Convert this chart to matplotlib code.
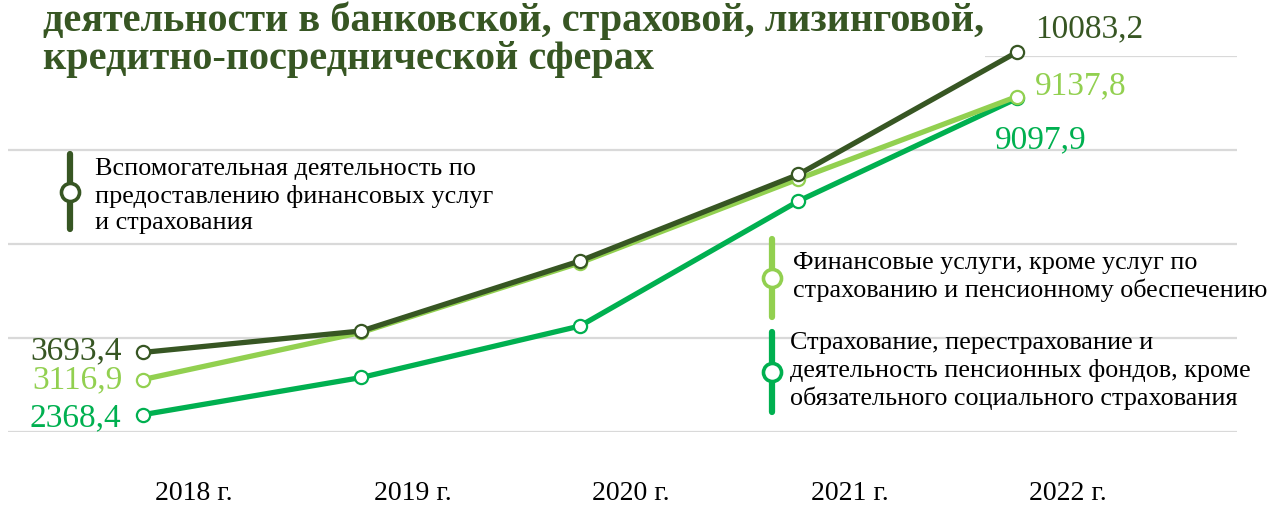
import matplotlib
matplotlib.use("Agg")
import matplotlib.pyplot as plt
from matplotlib.lines import Line2D
from matplotlib.patches import Rectangle
import matplotlib.transforms as mtransforms

# ---------------- data ----------------
years = ["2018 г.", "2019 г.", "2020 г.", "2021 г.", "2022 г."]
aux_services = [3693.4, 4150.0, 5640.0, 7480.0, 10083.2]      # dark green
fin_services = [3116.9, 4120.0, 5600.0, 7385.0, 9137.8]       # light green
insurance = [2368.4, 3160.0, 4255.0, 6915.0, 9097.9]          # medium green

series_names = [
    "Вспомогательная деятельность по\nпредоставлению финансовых услуг\nи страхования",
    "Финансовые услуги, кроме услуг по\nстрахованию и пенсионному обеспечению",
    "Страхование, перестрахование и\nдеятельность пенсионных фондов, кроме\nобязательного социального страхования",
]
title_lines = ["деятельности в банковской, страховой, лизинговой,",
               "кредитно-посреднической сферах"]

DARK = "#375623"
LIGHT = "#92D050"
MED = "#00B050"
GRID = "#D9D9D9"
SERIF = ["Liberation Serif", "DejaVu Serif"]

W, H = 1281, 506
fig = plt.figure(figsize=(W / 100, H / 100), dpi=100)


def fx(x):
    return x / W


def fy(y):
    return 1 - y / H


# axes occupying the grid area: left 8px, right 1237px, y(2000)=433px, y(10000)=57px
ax = fig.add_axes([fx(8), fy(433), (1237 - 8) / W, (433 - 57) / H])
ax.set_ylim(2000, 10000)
ax.set_xlim(-135 / 218.5, 4 + 220 / 218.5)
ax.set_yticks([2000, 4000, 6000, 8000, 10000])
ax.yaxis.grid(True, color=GRID, linewidth=1.6)
ax.set_axisbelow(True)
for s in ax.spines.values():
    s.set_visible(False)
ax.tick_params(axis="y", left=False, labelleft=False)

x = list(range(len(years)))
ax.set_xticks(x)
ax.set_xticklabels(years, fontfamily=SERIF, fontsize=20, color="black")
ax.tick_params(axis="x", bottom=False, pad=31)
offset = mtransforms.ScaledTranslation(0.51, 0, fig.dpi_scale_trans)
for lab in ax.get_xticklabels():
    lab.set_transform(lab.get_transform() + offset)

common = dict(linewidth=3.8, marker="o", markersize=9.5, markerfacecolor="white",
              markeredgewidth=1.6, clip_on=False, solid_capstyle="round")
ax.plot(x, insurance, color=MED, markeredgecolor=MED, zorder=3, **common)
ax.plot(x, fin_services, color=LIGHT, markeredgecolor=LIGHT, zorder=4, **common)
ax.plot(x, aux_services, color=DARK, markeredgecolor=DARK, zorder=5, **common)

lab_kw = dict(textcoords="offset points", fontfamily=SERIF, fontsize=24,
              va="center", annotation_clip=False)


def fmt(v):
    return f"{v:.1f}".replace(".", ",")


ax.annotate(fmt(aux_services[0]), (x[0], aux_services[0]),
            xytext=(-15, 1.5), ha="right", color=DARK, **lab_kw)
ax.annotate(fmt(fin_services[0]), (x[0], fin_services[0]),
            xytext=(-15, 0), ha="right", color=LIGHT, **lab_kw)
ax.annotate(fmt(insurance[0]), (x[0], insurance[0]),
            xytext=(-16, -1.5), ha="right", color=MED, **lab_kw)
ax.annotate(fmt(aux_services[-1]), (x[-1], aux_services[-1]),
            xytext=(13, 17), ha="left", color=DARK, **lab_kw)
ax.annotate(fmt(fin_services[-1]), (x[-1], fin_services[-1]),
            xytext=(13, 8), ha="left", color=LIGHT, **lab_kw)
ax.annotate(fmt(insurance[-1]), (x[-1], insurance[-1]),
            xytext=(-16, -29), ha="left", color=MED, **lab_kw)

# white title box hiding the top gridline
fig.add_artist(Rectangle((0, fy(66)), fx(985), 1 - fy(66), transform=fig.transFigure,
                         facecolor="white", edgecolor="none", zorder=2))
fig.text(fx(43), fy(31), title_lines[0], fontfamily=SERIF, fontweight="bold",
         fontsize=29, color=DARK, ha="left", va="baseline", zorder=6)
fig.text(fx(43), fy(69), title_lines[1], fontfamily=SERIF, fontweight="bold",
         fontsize=29, color=DARK, ha="left", va="baseline", zorder=6)

# custom legend entries
legend_specs = [
    (DARK, 70, 155, 230, 95, 196, series_names[0]),
    (LIGHT, 772, 240, 318, 793, 277, series_names[1]),
    (MED, 772, 333, 413, 790, 371, series_names[2]),
]
for color, lx, y1, y2, tx, ty, name in legend_specs:
    fig.add_artist(Line2D([fx(lx), fx(lx)], [fy(y1), fy(y2)], transform=fig.transFigure,
                          color=color, linewidth=4.5, solid_capstyle="round", zorder=7))
    fig.add_artist(Line2D([fx(lx)], [fy((y1 + y2) / 2)], transform=fig.transFigure,
                          marker="o", markersize=13, markerfacecolor="white",
                          markeredgecolor=color, markeredgewidth=2.6, zorder=8))
    fig.text(fx(tx), fy(ty), name, fontfamily=SERIF, fontsize=18.8, color="black",
             ha="left", va="center", linespacing=1.25, zorder=8)

fig.savefig("out.png", dpi=100, facecolor="white")
